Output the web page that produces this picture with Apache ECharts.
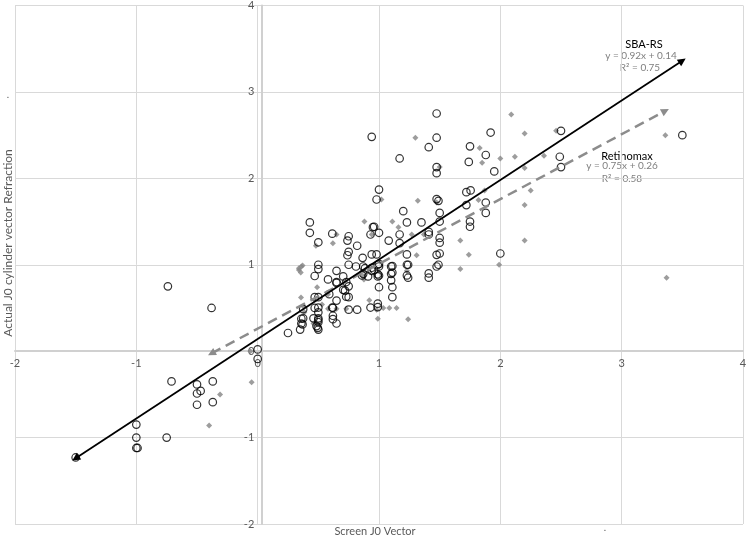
<!DOCTYPE html>
<html><head><meta charset="utf-8">
<script src="https://cdn.jsdelivr.net/npm/echarts@6/dist/echarts.min.js"></script>
<style>html,body{margin:0;padding:0;background:#fff}#c{width:750px;height:541px}</style>
</head><body><div id="c"></div>
<script>
// ---- data ----
const xTicks = [-2, -1, 0, 1, 2, 3, 4];
const yTicks = [-2, -1, 0, 1, 2, 3, 4];

const sbaX = [-1.50,-1.0,-1.0,-1.0,-0.99,-0.75,-0.74,-0.71,-0.50,-0.50,-0.47,-0.50,-0.37,-0.37,-0.38,0,0,0.25,0.35,0.36,0.36,0.375,0.375,0.37,0.46,0.50,0.50,0.485,0.495,0.50,0.50,0.50,0.50,0.47,0.47,0.50,0.47,0.50,0.50,0.43,0.43,0.50,0.615,0.75,0.74,0.82,0.75,0.74,0.865,0.94,0.98,0.96,1.0,0.93,1.08,1.17,1.17,1.23,1.20,1.23,1.0,0.98,0.94,0.75,0.81,0.87,0.885,0.94,0.96,0.99,1.0,1.11,1.11,0.65,0.705,0.58,0.65,0.73,0.75,0.705,0.72,0.87,0.86,0.91,0.94,0.99,0.99,1.11,1.11,1.0,0.73,0.75,0.65,0.59,0.615,0.62,0.75,0.82,0.93,0.99,0.99,0.62,0.62,0.65,0.65,1.23,1.23,1.24,1.41,1.41,1.10,1.24,1.10,1.475,1.49,1.475,1.50,2.0,1.50,1.50,1.41,1.41,1.35,1.50,1.75,1.75,1.50,1.88,1.88,1.72,1.475,1.49,1.72,1.755,1.475,1.475,1.95,1.74,1.88,1.75,1.92,2.49,2.50,2.50,3.50,1.17,1.41,1.475,1.475,0.95,1.10,1.0,1.0];
const sbaY = [-1.23,-0.85,-1.0,-1.12,-1.12,-1.0,0.75,-0.35,-0.385,-0.49,-0.46,-0.62,-0.35,-0.59,0.50,0.02,-0.09,0.21,0.25,0.32,0.375,0.38,0.486,0.31,0.38,0.38,0.36,0.29,0.27,0.25,0.335,0.505,0.45,0.50,0.625,0.625,0.87,1.0,0.95,1.49,1.37,1.26,1.36,1.33,1.28,1.22,1.15,1.11,1.08,1.12,1.12,1.44,1.37,1.35,1.28,1.35,1.25,1.12,1.62,1.49,1.87,1.755,2.48,1.0,0.98,0.98,0.96,0.965,0.94,1.0,0.98,0.985,0.91,0.93,0.865,0.83,0.80,0.80,0.75,0.71,0.70,0.895,0.876,0.865,0.93,0.865,0.89,0.74,0.625,0.74,0.63,0.625,0.585,0.66,0.505,0.50,0.48,0.48,0.505,0.55,0.51,0.41,0.37,0.32,0.79,1.0,0.876,0.85,0.90,0.85,0.895,1.0,0.98,0.98,1.0,1.115,1.13,1.13,1.31,1.255,1.38,1.35,1.49,1.50,1.50,1.44,1.60,1.60,1.72,1.69,1.76,1.74,1.84,1.86,2.13,2.06,2.08,2.19,2.27,2.37,2.53,2.25,2.13,2.55,2.50,2.23,2.36,2.47,2.75,1.435,0.82,0.876,1.01];

const retX = [-0.40,-0.31,-0.05,-0.06,0.34,0.36,0.355,0.34,0.37,0.357,0.375,0.385,0.46,0.48,0.62,0.65,0.88,1.11,1.16,0.94,0.58,0.53,0.58,0.65,0.73,0.876,0.92,0.98,0.99,1.035,1.085,1.145,1.24,1.27,1.37,1.67,1.31,1.74,1.67,1.99,1.32,1.475,1.82,1.87,2.25,2.20,2.20,1.50,2.20,2.36,2.12,2.0,1.85,1.83,2.09,1.30,2.20,2.46,3.36,3.37,0.49,0.86,1.02,1.23];
const retY = [-0.86,-0.50,-0.36,0.0,0.96,0.98,0.91,0.94,0.99,0.62,0.52,0.45,0.32,1.22,1.25,1.35,1.50,1.50,1.435,1.35,0.66,0.54,0.49,0.49,0.49,0.83,0.59,0.48,0.375,0.50,0.50,0.50,0.37,1.35,1.35,1.28,1.11,1.115,0.95,1.0,1.74,1.72,1.75,1.86,1.86,1.69,1.28,2.13,2.12,2.26,2.25,2.23,2.18,2.35,2.74,2.47,2.52,2.55,2.50,0.85,0.74,0.88,1.755,0.93];

// trendlines: [slope, intercept], x range
const sbaFit = [0.92, 0.14];
const sbaFitRange = [-1.5, 3.5];
const retFit = [0.75, 0.26];
const retFitRange = [-0.38, 3.36];

// ---- chart ----
const zip = (a, b) => a.map((v, i) => [v, b[i]]);
const fitEnds = (f, r) => r.map(x => [x, f[0] * x + f[1]]);
const sbaEnds = fitEnds(sbaFit, sbaFitRange);
const retEnds = fitEnds(retFit, retFitRange);

const FONT = 'Lato';
const gridColor = '#d9d9d9';
const GRID = { left: 15, right: 7, top: 5, bottom: 17 };
const chart = echarts.init(document.getElementById('c'));
const axisCommon = (ticks) => ({
  type: 'value', min: ticks[0], max: ticks[ticks.length - 1], interval: 1,
  axisLine: { show: true, onZero: false, lineStyle: { color: '#d0d0d0', width: 2 } },
  axisTick: { show: false },
  axisLabel: { color: '#595959', fontSize: 11, fontFamily: FONT, margin: 7 },
  splitLine: { show: true, lineStyle: { color: gridColor, width: 1 } }
});
chart.setOption({
  animation: false,
  backgroundColor: '#ffffff',
  grid: Object.assign({ containLabel: false }, GRID),
  xAxis: Object.assign(axisCommon(xTicks), { position: 'bottom', offset: 0 }),
  yAxis: Object.assign(axisCommon(yTicks), { position: 'left', offset: 0 }),
  series: [
    {
      name: 'Retinomax', type: 'scatter', data: zip(retX, retY),
      symbol: 'diamond', symbolSize: 6,
      itemStyle: { color: '#858585' }, z: 2,
      markLine: {
        silent: true, symbol: ['triangle', 'triangle'], symbolSize: [8, 8],
        label: { show: false },
        lineStyle: { color: '#8c8c8c', width: 2.5, type: [10, 6] },
        data: [[{ coord: retEnds[0] }, { coord: retEnds[1] }]]
      }
    },
    {
      name: 'SBA-RS', type: 'scatter', data: zip(sbaX, sbaY),
      symbol: 'circle', symbolSize: 7.5,
      itemStyle: { color: 'rgba(255,255,255,0)', borderColor: '#000', borderWidth: 1.2 }, z: 3,
      markLine: {
        silent: true, symbol: ['triangle', 'triangle'], symbolSize: [8, 8],
        label: { show: false },
        lineStyle: { color: '#000', width: 1.8, type: 'solid' },
        data: [[{ coord: sbaEnds[0] }, { coord: sbaEnds[1] }]]
      }
    }
  ],
  graphic: [
    { type: 'text', left: 'center', top: 526, style: { text: 'Screen J0 Vector', fill: '#595959', font: '11px ' + FONT } },
    { type: 'text', x: 8, y: 243, rotation: Math.PI / 2, style: { text: 'Actual J0 cylinder vector Refraction', fill: '#595959', font: '12px ' + FONT, align: 'center', verticalAlign: 'middle' } },
    { type: 'text', x: 8, y: 95, style: { text: '.', fill: '#595959', font: '10px ' + FONT, align: 'center', verticalAlign: 'middle' } },
    { type: 'text', x: 605, y: 528, style: { text: '.', fill: '#595959', font: '10px ' + FONT, align: 'center', verticalAlign: 'middle' } },
    { type: 'text', x: 644, y: 44, style: { text: 'SBA-RS', fill: '#000', font: '11px ' + FONT, align: 'center', verticalAlign: 'middle' } },
    { type: 'text', x: 641, y: 56, style: { text: 'y = 0.92x + 0.14', fill: '#7f7f7f', font: '10px ' + FONT, align: 'center', verticalAlign: 'middle' } },
    { type: 'text', x: 640, y: 68, style: { text: 'R² = 0.75', fill: '#7f7f7f', font: '10px ' + FONT, align: 'center', verticalAlign: 'middle' } },
    { type: 'text', x: 627, y: 156, style: { text: 'Retinomax', fill: '#000', font: '11px ' + FONT, align: 'center', verticalAlign: 'middle' } },
    { type: 'text', x: 622, y: 166, style: { text: 'y = 0.75x + 0.26', fill: '#7f7f7f', font: '10px ' + FONT, align: 'center', verticalAlign: 'middle' } },
    { type: 'text', x: 622, y: 179, style: { text: 'R² = 0.58', fill: '#7f7f7f', font: '10px ' + FONT, align: 'center', verticalAlign: 'middle' } }
  ]
});
// move both axes (line + labels) to cross at the origin
const origin = chart.convertToPixel({ gridIndex: 0 }, [0, 0]);
const H = chart.getHeight();
chart.setOption({
  xAxis: { offset: -((H - GRID.bottom) - origin[1]) },
  yAxis: { offset: -(origin[0] - GRID.left) }
});
</script></body></html>
